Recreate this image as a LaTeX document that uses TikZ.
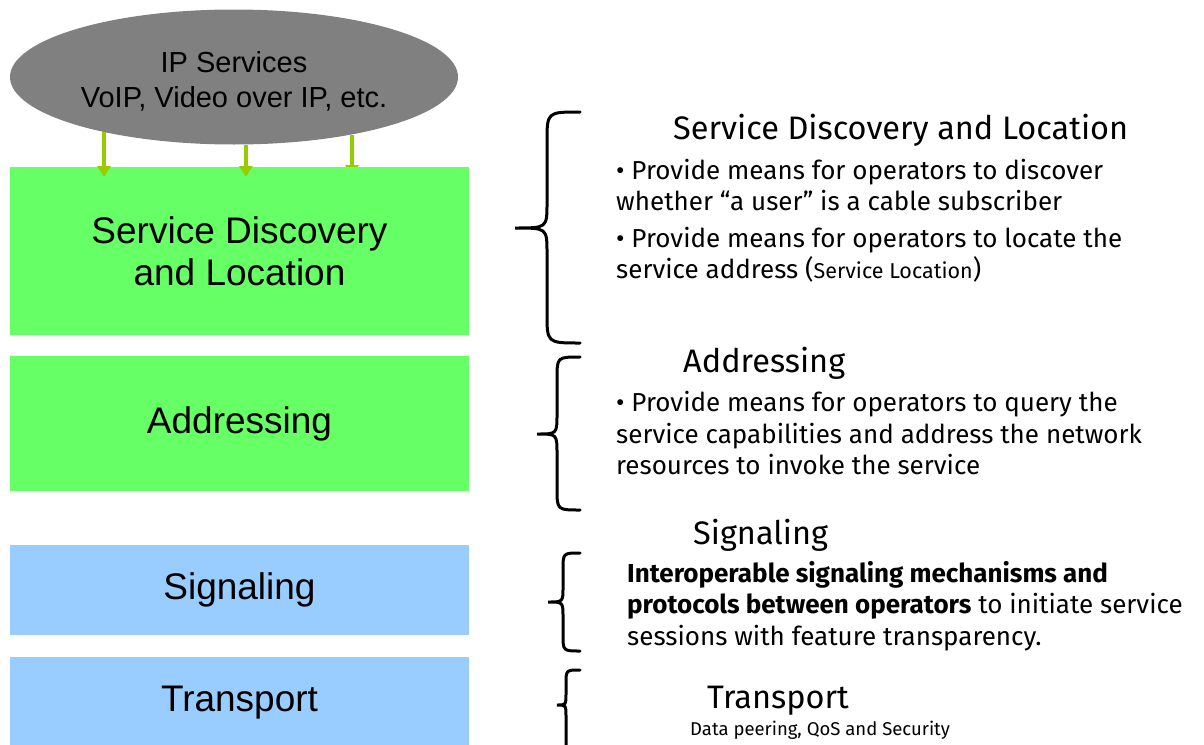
\documentclass[tikz,border=0pt]{standalone}
\usepackage{fontspec}
\setmainfont{Liberation Sans}
\newfontfamily\rfont{Fira Sans}
\usetikzlibrary{shapes.geometric,arrows.meta,backgrounds}
\definecolor{ipgray}{HTML}{808080}
\definecolor{lgreen}{HTML}{66FF66}
\definecolor{lblue}{HTML}{99CCFF}
\definecolor{arrgreen}{HTML}{99CC00}
\newcommand{\cbrace}[8]{%
  \draw[bracestyle] (#1,#4) .. controls (#2,#4) .. (#2,#4+#7) -- (#2,#5-#8)
    .. controls (#2,#5) .. (#3,#5) .. controls (#2,#5) .. (#2,#5+#8)
    -- (#2,#6-#7) .. controls (#2,#6) .. (#1,#6);}
\begin{document}
\begin{tikzpicture}[x=1pt,y=-1pt,
  layerbox/.style={anchor=north west, minimum width=459pt, inner sep=0pt, outer sep=0pt,
    align=center, text=black, font=\fontsize{37}{42}\selectfont},
  greenbox/.style={layerbox, fill=lgreen},
  bluebox/.style={layerbox, fill=lblue},
  arr/.style={draw=arrgreen, line width=4pt, -{Triangle[width=13pt,length=11pt]}},
  bracestyle/.style={draw=black, line width=3pt, line cap=round},
  rtitle/.style={anchor=base west, inner sep=0pt, font=\rfont\fontsize{32.5}{38}\selectfont},
  rbody/.style={anchor=base west, inner sep=0pt, font=\rfont\fontsize{26}{31}\selectfont},
  rsmall/.style={anchor=base west, inner sep=0pt, font=\rfont\fontsize{18.5}{20}\selectfont}]
\clip (0,0) rectangle (1204,744);
\begin{pgfonlayer}{background}
\fill[white] (0,0) rectangle (1204,744);
\end{pgfonlayer}

% left stack
\node[ellipse, fill=ipgray, minimum width=448pt, minimum height=135pt, inner sep=0pt,
  font=\fontsize{29}{35}\selectfont] (ip) at (234,77)
  {\raisebox{-5.5pt}[\height][\depth]{\begin{tabular}{@{}c@{}}IP Services\\VoIP, Video over IP, etc.\end{tabular}}};
\node[greenbox, minimum height=168pt] (sdl) at (10,167) {Service Discovery\\and Location};
\node[greenbox, minimum height=135pt] (adr) at (10,356) {Addressing};
\node[bluebox, minimum height=90pt] (sig) at (10,545) {Signaling};
\node[bluebox, minimum height=92pt] (trn) at (10,657) {Transport};

% arrows
\draw[arr] (ip.203.5) -- ([yshift=-10pt]ip.203.5 |- sdl.north);
\draw[arr] (ip.280.7) -- ([yshift=-10pt]ip.280.7 |- sdl.north);
\begin{pgfonlayer}{background}
\draw[arr] (ip.334) -- ([yshift=-9pt]ip.334 |- sdl.north);
\end{pgfonlayer}

% braces
\cbrace{580}{547}{515}{112}{228}{343}{30}{25}
\cbrace{580}{557}{537}{357}{434}{510}{22}{20}
\cbrace{580}{563}{548}{553}{602}{651}{17}{15}
\cbrace{580}{566}{557}{670}{705}{752}{14}{12}

% right texts
\node[rtitle] (t1) at (673,139) {Service Discovery and Location};
\node[rbody] (t1a) at (616,179) {• Provide means for operators to discover};
\node[rbody] (t1b) at (616,210) {whether “a user” is a cable subscriber};
\node[rbody] (t1c) at (616,247) {• Provide means for operators to locate the};
\node[rbody] (t1d) at (616,278) {service address ({\fontsize{21.5}{24}\selectfont Service Location})};

\node[rtitle] (t2) at (683,372) {Addressing};
\node[rbody] (t2a) at (616,411) {• Provide means for operators to query the};
\node[rbody] (t2b) at (616,443) {service capabilities and address the network};
\node[rbody] (t2c) at (616,474) {resources to invoke the service};

\node[rtitle] (t3) at (693,544) {Signaling};
\node[rbody] (t3a) at (627,582) {\bfseries Interoperable signaling mechanisms and};
\node[rbody] (t3b) at (627,613) {{\bfseries protocols between operators} to initiate service};
\node[rbody] (t3c) at (627,645) {sessions with feature transparency.};

\node[rtitle] (t4) at (707,708) {Transport};
\node[rsmall] (t4a) at (690,735) {Data peering, QoS and Security};
\end{tikzpicture}
\end{document}
